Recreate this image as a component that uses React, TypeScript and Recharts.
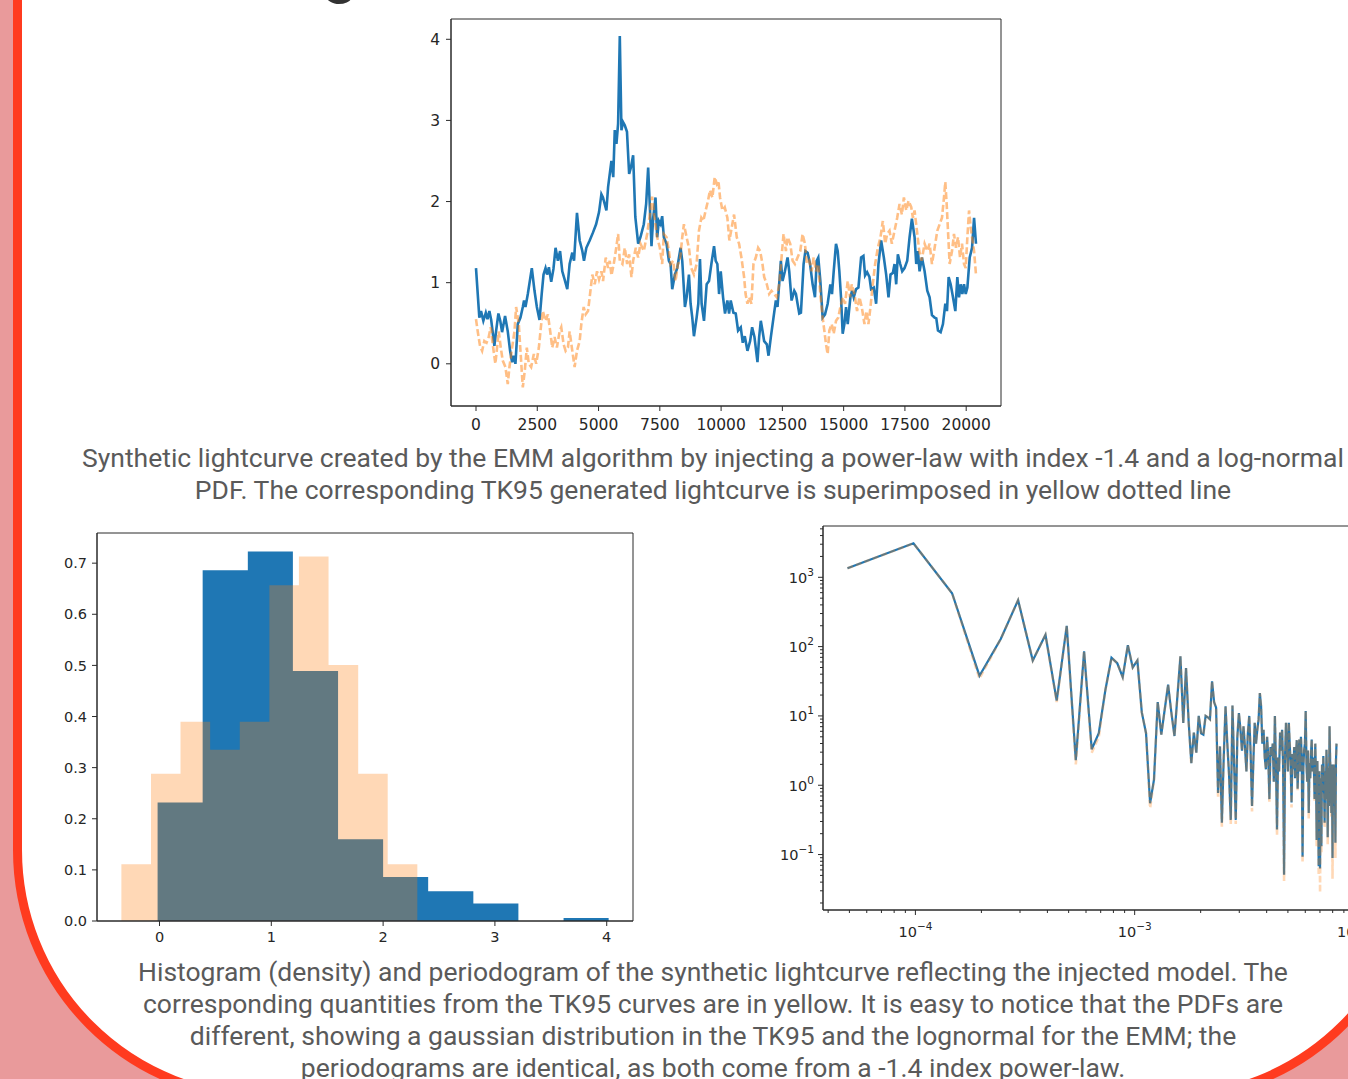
import React from 'react';
import { LineChart, Line, XAxis, YAxis, ReferenceArea, ComposedChart, Area } from 'recharts';

// ---------- Lightcurve (top chart) ----------
const emmTime = [0, 136, 205, 300, 400, 470, 546, 620, 750, 818, 914, 990, 1064, 1186, 1296, 1391, 1473, 1540, 1609, 1705, 1814, 1910, 1960, 2019, 2114, 2277, 2387, 2483, 2592, 2680, 2755, 2837, 2900, 2974, 3069, 3160, 3246, 3342, 3430, 3520, 3615, 3724, 3820, 3929, 4000, 4120, 4229, 4338, 4406, 4502, 4638, 4775, 4900, 5020, 5116, 5180, 5320, 5390, 5525, 5600, 5662, 5730, 5798, 5867, 5934, 6000, 6070, 6160, 6248, 6320, 6411, 6500, 6616, 6710, 6846, 6942, 7024, 7100, 7160, 7230, 7324, 7392, 7460, 7530, 7596, 7664, 7775, 7870, 7938, 8006, 8115, 8210, 8347, 8415, 8524, 8593, 8688, 8756, 8824, 8892, 9001, 9070, 9138, 9206, 9302, 9411, 9507, 9603, 9712, 9780, 9848, 9917, 9985, 10080, 10160, 10256, 10325, 10393, 10502, 10597, 10693, 10802, 10884, 10966, 11075, 11184, 11266, 11361, 11484, 11552, 11620, 11688, 11757, 11866, 11935, 12030, 12138, 12234, 12302, 12438, 12507, 12603, 12712, 12780, 12876, 12985, 13053, 13120, 13189, 13257, 13366, 13440, 13530, 13630, 13734, 13830, 13900, 13966, 14050, 14143, 14240, 14348, 14457, 14525, 14594, 14688, 14757, 14825, 14893, 14961, 15030, 15098, 15166, 15275, 15343, 15411, 15507, 15603, 15712, 15807, 15875, 15957, 16052, 16120, 16230, 16325, 16420, 16530, 16640, 16735, 16830, 16912, 17008, 17076, 17144, 17212, 17308, 17390, 17485, 17594, 17690, 17785, 17894, 17962, 18030, 18098, 18194, 18303, 18412, 18507, 18603, 18712, 18780, 18848, 18957, 19052, 19148, 19216, 19284, 19366, 19461, 19557, 19639, 19707, 19775, 19843, 19911, 19980, 20048, 20143, 20239, 20321, 20400];
const emmFlux = [1.18, 0.57, 0.65, 0.53, 0.63, 0.55, 0.65, 0.54, 0.22, 0.40, 0.62, 0.53, 0.39, 0.59, 0.40, 0.16, 0.02, 0.10, 0.00, 0.49, 0.57, 0.70, 0.78, 0.70, 0.86, 1.18, 0.90, 0.70, 0.54, 0.86, 1.10, 1.18, 1.10, 1.19, 1.01, 1.17, 1.43, 1.27, 1.39, 1.14, 1.04, 0.92, 1.23, 1.37, 1.27, 1.86, 1.52, 1.39, 1.27, 1.43, 1.52, 1.62, 1.72, 1.87, 2.09, 2.05, 1.89, 2.18, 2.50, 2.30, 2.88, 2.71, 2.96, 4.04, 2.88, 2.98, 2.94, 2.86, 2.34, 2.42, 2.57, 1.81, 1.48, 1.56, 1.72, 1.97, 2.42, 1.89, 1.45, 1.80, 2.05, 1.56, 1.76, 1.72, 1.82, 1.56, 1.48, 1.27, 1.23, 0.92, 1.10, 1.18, 1.43, 1.27, 0.70, 0.82, 1.10, 0.74, 0.57, 0.34, 0.57, 0.74, 1.29, 0.74, 0.53, 0.98, 1.02, 1.23, 1.45, 1.27, 1.23, 0.86, 1.14, 0.82, 0.62, 0.78, 0.62, 0.78, 0.63, 0.62, 0.41, 0.45, 0.26, 0.34, 0.16, 0.28, 0.45, 0.33, 0.02, 0.33, 0.53, 0.41, 0.28, 0.24, 0.10, 0.33, 0.57, 0.78, 0.70, 1.27, 1.02, 1.14, 1.31, 1.14, 0.78, 0.90, 0.86, 0.74, 0.62, 0.63, 1.23, 1.39, 1.37, 1.23, 0.98, 0.82, 1.27, 1.31, 1.02, 0.57, 0.61, 0.74, 0.98, 0.86, 1.14, 1.48, 1.39, 1.14, 0.82, 0.37, 0.49, 0.70, 0.49, 0.82, 0.90, 0.82, 0.92, 0.94, 1.31, 1.33, 1.09, 1.13, 1.07, 0.92, 0.94, 0.74, 1.23, 1.52, 1.31, 1.10, 0.82, 1.10, 1.12, 1.23, 0.98, 1.35, 1.23, 1.14, 1.18, 1.27, 1.56, 1.79, 1.56, 1.23, 1.39, 1.14, 1.31, 1.14, 0.90, 0.82, 0.60, 0.57, 0.56, 0.41, 0.39, 0.49, 0.74, 0.65, 1.07, 0.98, 0.82, 0.65, 1.07, 0.82, 0.98, 0.86, 0.98, 0.86, 0.94, 1.31, 1.43, 1.80, 1.48];

const tk95Time = [0, 70, 164, 250, 341, 430, 519, 600, 682, 790, 846, 928, 1010, 1091, 1200, 1296, 1364, 1473, 1570, 1637, 1746, 1814, 1910, 1992, 2073, 2155, 2250, 2360, 2455, 2565, 2660, 2728, 2837, 2933, 3028, 3110, 3206, 3301, 3411, 3479, 3574, 3656, 3751, 3820, 3929, 4024, 4120, 4229, 4297, 4393, 4475, 4570, 4638, 4747, 4843, 4938, 5020, 5116, 5184, 5293, 5389, 5457, 5525, 5620, 5702, 5798, 5866, 5975, 6070, 6166, 6248, 6343, 6411, 6520, 6616, 6710, 6846, 6983, 7092, 7187, 7283, 7392, 7501, 7596, 7664, 7775, 7870, 7938, 8047, 8142, 8238, 8320, 8415, 8483, 8593, 8688, 8783, 8892, 9001, 9097, 9193, 9275, 9370, 9466, 9548, 9644, 9739, 9821, 9889, 9957, 10053, 10148, 10256, 10338, 10433, 10529, 10638, 10734, 10829, 10938, 10999, 11075, 11143, 11239, 11320, 11416, 11511, 11593, 11688, 11757, 11866, 11962, 12057, 12166, 12275, 12371, 12466, 12548, 12644, 12712, 12821, 12917, 13012, 13120, 13230, 13325, 13420, 13502, 13597, 13693, 13775, 13870, 13966, 14048, 14143, 14212, 14280, 14348, 14416, 14512, 14594, 14689, 14784, 14866, 14961, 15057, 15166, 15261, 15329, 15439, 15548, 15643, 15739, 15848, 15930, 16012, 16094, 16189, 16285, 16394, 16503, 16598, 16694, 16776, 16872, 16967, 17076, 17185, 17281, 17376, 17458, 17554, 17649, 17758, 17826, 17894, 17990, 18085, 18180, 18303, 18412, 18507, 18603, 18712, 18821, 18917, 19012, 19094, 19148, 19203, 19257, 19325, 19421, 19502, 19584, 19666, 19748, 19830, 19911, 19980, 20048, 20116, 20185, 20239, 20321, 20400];
const tk95Flux = [0.55, 0.40, 0.22, 0.16, 0.28, 0.26, 0.33, 0.45, 0.24, 0.00, 0.16, 0.40, 0.20, 0.04, -0.04, -0.25, -0.04, 0.20, 0.40, 0.70, 0.49, 0.16, -0.29, -0.08, 0.20, 0.00, -0.04, 0.12, 0.00, 0.20, 0.49, 0.65, 0.53, 0.61, 0.40, 0.20, 0.33, 0.20, 0.40, 0.45, 0.24, 0.16, 0.20, 0.40, 0.16, -0.04, 0.16, 0.28, 0.49, 0.70, 0.61, 0.65, 0.82, 1.10, 0.98, 1.14, 1.04, 1.14, 1.02, 1.31, 1.18, 1.27, 1.09, 1.23, 1.39, 1.60, 1.27, 1.23, 1.43, 1.23, 1.35, 1.07, 1.27, 1.43, 1.31, 1.48, 1.39, 1.60, 1.84, 2.06, 1.80, 1.56, 1.43, 1.23, 1.60, 1.56, 1.39, 1.23, 1.27, 1.02, 1.23, 1.27, 1.56, 1.72, 1.56, 1.43, 1.18, 1.10, 1.23, 1.64, 1.80, 1.76, 1.89, 2.01, 2.14, 2.05, 2.30, 2.22, 2.26, 2.05, 1.89, 1.93, 1.80, 1.52, 1.68, 1.84, 1.56, 1.48, 1.31, 1.07, 0.86, 0.74, 0.82, 0.74, 1.23, 1.31, 1.43, 1.39, 1.23, 1.07, 0.98, 0.86, 0.90, 0.86, 0.82, 0.98, 1.31, 1.60, 1.39, 1.56, 1.48, 1.27, 1.23, 1.31, 1.39, 1.60, 1.48, 1.23, 1.27, 1.14, 1.31, 1.14, 1.23, 0.86, 0.57, 0.41, 0.24, 0.12, 0.41, 0.49, 0.37, 0.53, 0.57, 0.70, 0.82, 0.74, 1.02, 0.82, 0.98, 0.86, 0.65, 0.82, 0.70, 0.49, 0.65, 0.49, 0.70, 0.98, 1.23, 1.43, 1.56, 1.76, 1.48, 1.60, 1.64, 1.48, 1.64, 1.80, 1.97, 1.84, 2.05, 1.89, 2.01, 1.93, 1.80, 1.89, 1.64, 1.39, 1.27, 1.48, 1.39, 1.48, 1.23, 1.43, 1.64, 1.72, 1.80, 2.05, 2.24, 1.97, 1.64, 1.23, 1.39, 1.60, 1.43, 1.56, 1.31, 1.48, 1.23, 1.18, 1.56, 1.89, 1.68, 1.56, 1.39, 1.10];

const lightTicksX = [0, 2500, 5000, 7500, 10000, 12500, 15000, 17500, 20000];
const lightTicksY = [0, 1, 2, 3, 4];

// ---------- Histogram (bottom left) ----------
const emmBinEdges = [-0.017, 0.386, 0.79, 1.193, 1.597, 2.0, 2.403, 2.807, 3.21, 3.614, 4.017];
const emmDensity = [0.232, 0.686, 0.723, 0.489, 0.16, 0.086, 0.058, 0.034, 0, 0.006];
const tk95BinEdges = [-0.341, -0.076, 0.188, 0.453, 0.718, 0.983, 1.247, 1.512, 1.777, 2.041, 2.306];
const tk95Density = [0.111, 0.288, 0.39, 0.335, 0.39, 0.657, 0.713, 0.501, 0.288, 0.111];
const histTicksX = [0, 1, 2, 3, 4];
const histTicksY = [0, 0.1, 0.2, 0.3, 0.4, 0.5, 0.6, 0.7];

// ---------- Periodogram (bottom right) ----------
const FREQ_STEP = 4.9e-5;
const emmLogPower = [
  3.13, 3.49, 2.77, 1.58, 2.11, 2.67, 1.8, 2.17, 1.22, 2.3,
  0.36, 1.93, 0.52, 0.75, 1.37, 1.84, 1.76, 1.56, 2.02, 1.7,
  1.8, 1.05, 0.75, -0.26, 0.08, 1.2, 0.73, 1.1, 1.45, 1.05,
  0.71, 1.3, 1.86, 0.9, 1.69, 0.9, 0.32, 0.76, 0.47, 1.0,
  0.75, 0.73, 1.0, 0.98, 0.95, 1.5, 1.2, 1.12, -0.11, 0.56,
  -0.54, 0.4, 1.14, 0.6, 0.15, -0.5, 1.15, 0.3, -0.5, 0.7,
  1.04, 0.8, 0.5, 0.85, 0.55, 0.2, 0.75, 1.0, 0.45, -0.3,
  0.35, 0.9, 0.6, 0.8, 0.95, 1.33, 1.14, 0.6, 0.8, 0.4,
  0.23, 0.7, 0.42, -0.2, 0.55, 0.42, 0.6, 0.05, 1.0, 0.3,
  -0.64, 0.4, 0.2, 0.76, 0.5, 0.8, 0.3, -1.29, 0.4, 0.9,
  0.55, 0.2, 0.9, 0.6, 0.3, -0.25, 0.45, 0.23, 0.55, 0.1,
  0.42, 0.65, -0.05, 0.35, 0.66, 0.2, 0.7, 0.4, -1.03, 0.25,
  0.51, 0.6, 1.07, 0.3, 0.05, 0.5, -0.4, 0.32, 0.1, 0.45,
  0.66, 0.2, 0.4, 0.28, -0.2, 0.6, 0.15, -0.79, 0.35, -0.3,
  -1.17, 0.2, -1.2, 0.1, -0.88, 0.3, -0.1, 0.42, 0.05, -0.54,
  0.2, -0.2, 0.51, 0.1, -0.75, 0.25, -0.3, 0.85, 0.35, 0.13,
  -0.4, 0.3, -1.05, 0.15, 0.3, -0.2, 0.25, -0.83, 0.35, 0.6,
];
const tk95LogPower = [
  3.13, 3.49, 2.77, 1.54, 2.11, 2.67, 1.8, 2.17, 1.2, 2.3,
  0.3, 1.93, 0.47, 0.7, 1.37, 1.84, 1.76, 1.56, 2.02, 1.7,
  1.8, 1.05, 0.75, -0.33, 0.08, 1.2, 0.73, 1.1, 1.45, 1.05,
  0.71, 1.3, 1.86, 0.9, 1.69, 0.9, 0.3, 0.76, 0.47, 1.0,
  0.75, 0.73, 1.0, 0.98, 0.95, 1.5, 1.2, 1.12, -0.18, 0.56,
  -0.6, 0.4, 1.14, 0.6, 0.15, -0.56, 1.15, 0.3, -0.56, 0.7,
  1.04, 0.8, 0.5, 0.85, 0.55, 0.2, 0.75, 1.0, 0.45, -0.38,
  0.35, 0.9, 0.6, 0.8, 0.95, 1.33, 1.14, 0.6, 0.8, 0.4,
  0.23, 0.7, 0.42, -0.24, 0.55, 0.42, 0.6, 0.05, 1.0, 0.3,
  -0.72, 0.4, 0.2, 0.76, 0.5, 0.8, 0.3, -1.38, 0.4, 0.9,
  0.55, 0.2, 0.9, 0.6, 0.3, -0.32, 0.45, 0.23, 0.55, 0.1,
  0.42, 0.65, -0.08, 0.35, 0.66, 0.2, 0.7, 0.4, -1.12, 0.25,
  0.51, 0.6, 1.07, 0.3, 0.05, 0.5, -0.48, 0.32, 0.1, 0.45,
  0.66, 0.2, 0.4, 0.28, -0.24, 0.6, 0.15, -0.88, 0.35, -0.34,
  -1.3, 0.2, -1.55, 0.1, -0.98, 0.3, -0.1, 0.42, 0.05, -0.62,
  0.2, -0.22, 0.51, 0.1, -0.85, 0.25, -0.3, 0.85, 0.35, 0.13,
  -0.45, 0.3, -1.35, 0.15, 0.3, -0.2, 0.25, -1.05, 0.35, 0.6,
];
const periodTicksX = [4e-5, 5e-5, 6e-5, 7e-5, 8e-5, 9e-5, 1e-4, 2e-4, 3e-4, 4e-4, 5e-4, 6e-4, 7e-4, 8e-4, 9e-4, 1e-3, 2e-3, 3e-3, 4e-3, 5e-3, 6e-3, 7e-3, 8e-3, 9e-3, 1e-2];
const periodTicksY = [0.02, 0.03, 0.04, 0.05, 0.06, 0.07, 0.08, 0.09, 0.1, 0.2, 0.3, 0.4, 0.5, 0.6, 0.7, 0.8, 0.9, 1, 2, 3, 4, 5, 6, 7, 8, 9, 10, 20, 30, 40, 50, 60, 70, 80, 90, 100, 200, 300, 400, 500, 600, 700, 800, 900, 1000, 2000, 3000, 4000, 5000];

// ---------- Captions ----------
const captionTop = [
  'Synthetic lightcurve created by the EMM algorithm by injecting a power-law with index -1.4 and a log-normal',
  'PDF. The corresponding TK95 generated lightcurve is superimposed in yellow dotted line',
];
const captionBottom = [
  'Histogram (density) and periodogram of the synthetic lightcurve reflecting the injected model. The',
  'corresponding quantities from the TK95 curves are in yellow. It is easy to notice that the PDFs are',
  'different, showing a gaussian distribution in the TK95 and the lognormal for the EMM; the',
  'periodograms are identical, as both come from a -1.4 index power-law.',
];

// ---------- derived tables ----------
const emmSeries = emmTime.map((t, i) => ({ t, v: emmFlux[i] }));
const tk95Series = tk95Time.map((t, i) => ({ t, v: tk95Flux[i] }));
const emmHistSteps = emmBinEdges.map((x, i) => ({ x, d: emmDensity[Math.min(i, emmDensity.length - 1)] }));
const tk95HistSteps = tk95BinEdges.map((x, i) => ({ x, d: tk95Density[Math.min(i, tk95Density.length - 1)] }));
const emmPeriodogram = emmLogPower.map((lp, i) => ({ f: (i + 1) * FREQ_STEP, p: Math.pow(10, lp) }));
const tk95Periodogram = tk95LogPower.map((lp, i) => ({ f: (i + 1) * FREQ_STEP, p: Math.pow(10, lp) }));

const BLUE = '#1f77b4';
const ORANGE = '#ff7f0e';
const AX = '#2a2a2a';
const MPL_FONT = 'DejaVu Sans';

const LX_DOMAIN: [number, number] = [-1020, 21420];
const LY_DOMAIN: [number, number] = [-0.52, 4.25];
const HX_DOMAIN: [number, number] = [-0.559, 4.235];
const HY_DOMAIN: [number, number] = [0, 0.759];
const PX_DOMAIN: [number, number] = [Math.pow(10, -4.4214), Math.pow(10, -1.9677)];
const PY_DOMAIN: [number, number] = [Math.pow(10, -1.8), Math.pow(10, 3.74)];

const isMajor = (v: number) => Math.abs(Math.log10(v) - Math.round(Math.log10(v))) < 1e-6;
const expText = (v: number) => {
  const e = Math.round(Math.log10(v));
  return e < 0 ? '\u2212' + String(-e) : String(e);
};

const LogTickY = (props: any) => {
  const { x, y, payload } = props;
  const v = payload.value;
  const major = isMajor(v);
  const len = major ? 5 : 3;
  return (
    <g>
      <line x1={x - len} x2={x} y1={y} y2={y} stroke={AX} strokeWidth={1} />
      {major && (
        <text x={x - 9} y={y + 5.5} textAnchor="end" fill="#262626" fontFamily={MPL_FONT} fontSize={14.5}>
          <tspan>10</tspan>
          <tspan dy={-7} fontSize={10.5}>{expText(v)}</tspan>
        </text>
      )}
    </g>
  );
};

const LogTickX = (props: any) => {
  const { x, y, payload } = props;
  const v = payload.value;
  const major = isMajor(v);
  const len = major ? 5 : 3;
  return (
    <g>
      <line x1={x} x2={x} y1={y} y2={y + len} stroke={AX} strokeWidth={1} />
      {major && (
        <text x={x} y={y + 27} textAnchor="middle" fill="#262626" fontFamily={MPL_FONT} fontSize={14.5}>
          <tspan>10</tspan>
          <tspan dy={-7} fontSize={10.5}>{expText(v)}</tspan>
        </text>
      )}
    </g>
  );
};

const captionLineStyle: React.CSSProperties = {
  position: 'absolute',
  left: 0,
  width: 1426,
  textAlign: 'center',
  whiteSpace: 'nowrap',
  fontFamily: 'Roboto, sans-serif',
  fontSize: 26.5,
  lineHeight: '32px',
  color: '#5a5a5a',
};

export default function App() {
  return (
    <div style={{ position: 'fixed', left: 0, top: 0, width: 1348, height: 1079, overflow: 'hidden', background: '#e99a9b' }}>
      {/* white card with red border */}
      <div
        style={{
          position: 'absolute',
          left: 13,
          top: -60,
          width: 1407,
          height: 1162,
          boxSizing: 'border-box',
          border: '9px solid #ff3b1f',
          borderRadius: '0 0 252px 252px',
          background: '#ffffff',
        }}
      />
      {/* heading descender peeking at the top */}
      <div style={{ position: 'absolute', left: 323, top: -58, fontFamily: 'Roboto', fontWeight: 700, fontSize: 60, lineHeight: '60px', color: '#333' }}>g</div>

      {/* Top: lightcurve */}
      <div style={{ position: 'absolute', left: 380, top: 0 }}>
        <LineChart width={640} height={445} margin={{ top: 19, right: 19, bottom: 0, left: 0 }}>
          <XAxis
            type="number"
            dataKey="t"
            domain={LX_DOMAIN}
            ticks={lightTicksX}
            interval={0}
            allowDataOverflow
            height={39}
            tickSize={5}
            tickMargin={8}
            axisLine={{ stroke: AX }}
            tickLine={{ stroke: AX }}
            tick={{ fill: '#262626', fontSize: 15.5, fontFamily: MPL_FONT }}
          />
          <YAxis
            type="number"
            dataKey="v"
            domain={LY_DOMAIN}
            ticks={lightTicksY}
            interval={0}
            allowDataOverflow
            width={71}
            tickSize={5}
            tickMargin={6}
            axisLine={{ stroke: AX }}
            tickLine={{ stroke: AX }}
            tick={{ fill: '#262626', fontSize: 15.5, fontFamily: MPL_FONT }}
          />
          <ReferenceArea x1={LX_DOMAIN[0]} x2={LX_DOMAIN[1]} y1={LY_DOMAIN[0]} y2={LY_DOMAIN[1]} fill="none" stroke={AX} strokeWidth={1} ifOverflow="visible" />
          <Line data={emmSeries} dataKey="v" type="linear" stroke={BLUE} strokeWidth={2.6} dot={false} activeDot={false} isAnimationActive={false} />
          <Line data={tk95Series} dataKey="v" type="linear" stroke={ORANGE} strokeOpacity={0.5} strokeWidth={2.6} strokeDasharray="7 3" dot={false} activeDot={false} isAnimationActive={false} />
        </LineChart>
      </div>

      {captionTop.map((line, i) => (
        <div key={'ct' + i} style={{ ...captionLineStyle, top: 441.5 + i * 32 }}>{line}</div>
      ))}

      {/* Bottom left: histogram */}
      <div style={{ position: 'absolute', left: 30, top: 520 }}>
        <ComposedChart width={620} height={440} margin={{ top: 13, right: 17, bottom: 0, left: 0 }}>
          <XAxis
            type="number"
            dataKey="x"
            domain={HX_DOMAIN}
            ticks={histTicksX}
            interval={0}
            allowDataOverflow
            height={39}
            tickSize={5}
            tickMargin={6}
            axisLine={{ stroke: AX }}
            tickLine={{ stroke: AX }}
            tick={{ fill: '#262626', fontSize: 14.5, fontFamily: MPL_FONT }}
          />
          <YAxis
            type="number"
            dataKey="d"
            domain={HY_DOMAIN}
            ticks={histTicksY}
            interval={0}
            allowDataOverflow
            width={67}
            tickSize={5}
            tickMargin={5}
            axisLine={{ stroke: AX }}
            tickLine={{ stroke: AX }}
            tickFormatter={(v: number) => v.toFixed(1)}
            tick={{ fill: '#262626', fontSize: 14.5, fontFamily: MPL_FONT }}
          />
          <Area data={emmHistSteps} dataKey="d" type="stepAfter" stroke="none" fill={BLUE} fillOpacity={1} dot={false} activeDot={false} isAnimationActive={false} />
          <Area data={tk95HistSteps} dataKey="d" type="stepAfter" stroke="none" fill={ORANGE} fillOpacity={0.3} dot={false} activeDot={false} isAnimationActive={false} />
          <ReferenceArea x1={HX_DOMAIN[0]} x2={HX_DOMAIN[1]} y1={HY_DOMAIN[0]} y2={HY_DOMAIN[1]} fill="none" stroke={AX} strokeWidth={1} ifOverflow="visible" />
        </ComposedChart>
      </div>

      {/* Bottom right: periodogram */}
      <div style={{ position: 'absolute', left: 760, top: 515 }}>
        <LineChart width={620} height={440} margin={{ top: 11, right: 19, bottom: 0, left: 0 }}>
          <XAxis
            type="number"
            dataKey="f"
            scale="log"
            domain={PX_DOMAIN}
            ticks={periodTicksX}
            interval={0}
            allowDataOverflow
            height={45}
            tickSize={0}
            tickMargin={0}
            axisLine={{ stroke: AX }}
            tickLine={false}
            tick={<LogTickX />}
          />
          <YAxis
            type="number"
            dataKey="p"
            scale="log"
            domain={PY_DOMAIN}
            ticks={periodTicksY}
            interval={0}
            allowDataOverflow
            width={63}
            tickSize={0}
            tickMargin={0}
            axisLine={{ stroke: AX }}
            tickLine={false}
            tick={<LogTickY />}
          />
          <ReferenceArea x1={PX_DOMAIN[0]} x2={PX_DOMAIN[1]} y1={PY_DOMAIN[0]} y2={PY_DOMAIN[1]} fill="none" stroke={AX} strokeWidth={1} ifOverflow="visible" />
          <Line data={emmPeriodogram} dataKey="p" type="linear" stroke={BLUE} strokeWidth={2.2} dot={false} activeDot={false} isAnimationActive={false} />
          <Line data={tk95Periodogram} dataKey="p" type="linear" stroke={ORANGE} strokeOpacity={0.3} strokeWidth={2.6} strokeDasharray="6 3" dot={false} activeDot={false} isAnimationActive={false} />
        </LineChart>
      </div>

      {captionBottom.map((line, i) => (
        <div key={'cb' + i} style={{ ...captionLineStyle, top: 955.5 + i * 32 }}>{line}</div>
      ))}
    </div>
  );
}
